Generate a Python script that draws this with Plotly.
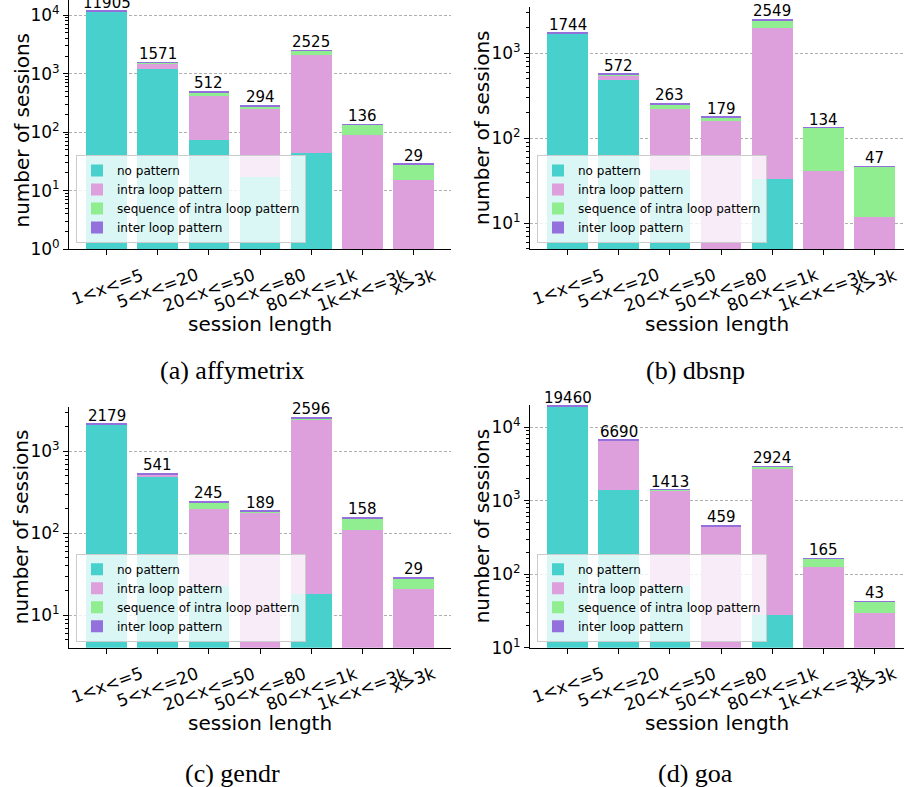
import numpy as np
import plotly.graph_objects as go

categories = ["1<x<=5", "5<x<=20", "20<x<=50", "50<x<=80", "80<x<=1k", "1k<x<=3k", "x>3k"]
series_names = ["no pattern", "intra loop pattern", "sequence of intra loop pattern", "inter loop pattern"]
series_colors = ["#48D1CC", "#DDA0DD", "#90EE90", "#9370DB"]

# affymetrix
affy_no = [11500, 1206, 74, 17, 44, 0, 0]
affy_intra = [40, 317, 347, 235, 2050, 89, 15]
affy_seq = [5, 5, 47, 18, 355, 44, 13]
affy_inter = [360, 43, 44, 24, 76, 3, 1]

# dbsnp
dbsnp_no = [1690, 486, 42, 3, 33, 0, 0]
dbsnp_intra = [5, 68, 179, 157, 1953, 41, 12]
dbsnp_seq = [4, 2, 32, 15, 480, 92, 34]
dbsnp_inter = [45, 16, 10, 4, 83, 1, 1]

# gendr
gendr_no = [2140, 491, 23, 2, 18, 0, 0]
gendr_intra = [5, 40, 177, 178, 2392, 110, 21]
gendr_seq = [4, 2, 39, 5, 143, 42, 7]
gendr_inter = [30, 8, 6, 4, 43, 6, 1]

# goa
goa_no = [19200, 1400, 70, 5, 28, 0, 0]
goa_intra = [40, 5200, 1320, 440, 2738, 125, 30]
goa_seq = [10, 20, 5, 3, 114, 36, 12]
goa_inter = [210, 70, 18, 11, 44, 4, 1]

captions = ["(a) affymetrix", "(b) dbsnp", "(c) gendr", "(d) goa"]
datasets = [
    [affy_no, affy_intra, affy_seq, affy_inter],
    [dbsnp_no, dbsnp_intra, dbsnp_seq, dbsnp_inter],
    [gendr_no, gendr_intra, gendr_seq, gendr_inter],
    [goa_no, goa_intra, goa_seq, goa_inter],
]

W, H = 904, 787
# layout (pixels)
ax_left = [69, 530, 69, 530]
ax_right = [451, 904, 451, 904]
ax_top = [0, 7, 406.7, 405]
ax_bottom = [249, 249, 647.7, 647.7]
y_ranges = [[0, 4.262], [0.698, 3.545], [0.605, 3.544], [1.0, 4.30]]
y_ticks = [[0, 1, 2, 3, 4], [1, 2, 3], [1, 2, 3], [1, 2, 3, 4]]
px_per_cat = 51.07
caption_pos = [(232, 370), (695, 370), (232, 773), (695, 773)]

FONT = "DejaVu Sans"
fig = go.Figure()
annotations = []
layout = dict(
    width=W, height=H, margin=dict(l=0, r=0, t=0, b=0, autoexpand=False),
    paper_bgcolor="white", plot_bgcolor="white",
    barmode="stack", font=dict(family=FONT, color="black"),
    showlegend=True,
)

for i, data in enumerate(datasets):
    k = i + 1
    sfx = "" if k == 1 else str(k)
    xa, ya = f"x{sfx}", f"y{sfx}"
    leg = f"legend{sfx}"
    for name, color, vals in zip(series_names, series_colors, data):
        fig.add_trace(go.Bar(
            x=categories, y=vals, name=name, marker=dict(color=color, line=dict(width=0)),
            width=0.8, xaxis=xa, yaxis=ya, legend=leg, showlegend=True,
        ))
    totals = np.sum(np.array(data), axis=0)

    xdom = [ax_left[i] / W, min(ax_right[i] / W, 1.0)]
    ydom = [1 - ax_bottom[i] / H, min(1 - ax_top[i] / H, 1.0)]
    xr = [-0.74, -0.74 + (ax_right[i] - ax_left[i]) / px_per_cat]
    layout[f"xaxis{sfx}"] = dict(
        domain=xdom, anchor=ya, type="category", range=xr, automargin=False,
        showline=True, linecolor="black", linewidth=1, mirror=False,
        ticks="outside", ticklen=5, tickcolor="black", showticklabels=False,
        showgrid=False, zeroline=False, fixedrange=True,
    )
    layout[f"yaxis{sfx}"] = dict(
        domain=ydom, anchor=xa, type="log", range=y_ranges[i], automargin=False,
        showline=True, linecolor="black", linewidth=1, mirror=False,
        ticks="outside", ticklen=5, tickcolor="black",
        tickmode="array", tickvals=[10 ** t for t in y_ticks[i]],
        ticktext=[f"10<sup>{t}</sup>" for t in y_ticks[i]],
        tickfont=dict(size=17, family=FONT, color="black"),
        showgrid=True, gridcolor="#b0b0b0", gridwidth=0.8, griddash="3px,2px",
        zeroline=False,
        minor=dict(ticks="outside", ticklen=3, tickcolor="black", dtick="D1", showgrid=False),
    )
    layout[leg] = dict(
        x=(ax_left[i] + 7) / W, y=1 - (ax_bottom[i] - 6) / H,
        xanchor="left", yanchor="bottom", xref="paper", yref="paper",
        bgcolor="rgba(255,255,255,0.8)", bordercolor="#cccccc", borderwidth=1,
        font=dict(size=12, family=FONT, color="black"), traceorder="normal",
        tracegroupgap=0,
    )
    # totals above bars
    for c, t in zip(categories, totals):
        annotations.append(dict(
            x=c, y=float(np.log10(t)), xref=xa, yref=ya, text=str(int(t)),
            showarrow=False, xanchor="center", yanchor="bottom", yshift=-3,
            font=dict(size=15, family=FONT, color="black"),
        ))
    # rotated, centred category labels
    for c in categories:
        annotations.append(dict(
            x=c, y=0, xref=xa, yref=f"{ya} domain", text=c.replace("<", "&lt;").replace(">", "&gt;"),
            showarrow=False, xanchor="center", yanchor="top", yshift=-13, textangle=-20,
            font=dict(size=17, family=FONT, color="black"),
        ))
    # axis titles
    annotations.append(dict(
        x=0.5, y=0, xref=f"{xa} domain", yref=f"{ya} domain", text="session length",
        showarrow=False, xanchor="center", yanchor="middle", yshift=-75,
        font=dict(size=20, family=FONT, color="black"),
    ))
    annotations.append(dict(
        x=0, y=0.5, xref=f"{xa} domain", yref=f"{ya} domain", text="number of sessions",
        showarrow=False, xanchor="center", yanchor="middle", xshift=-48,
        yshift=-6 if k == 1 else 0, textangle=-90,
        font=dict(size=20, family=FONT, color="black"),
    ))
    cx, cy = caption_pos[i]
    annotations.append(dict(
        x=cx / W, y=1 - cy / H, xref="paper", yref="paper", text=captions[i],
        showarrow=False, xanchor="center", yanchor="middle",
        font=dict(size=26, family="Liberation Serif", color="black"),
    ))

layout["annotations"] = annotations
fig.update_layout(**layout)
fig.write_html(
    "out.html",
    config={"displayModeBar": False},
    post_script="document.body.style.margin='0';document.body.style.padding='0';"
                "document.body.style.overflow='hidden';",
)
